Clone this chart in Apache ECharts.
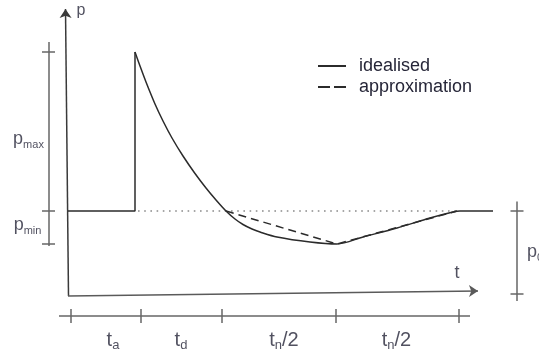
<!DOCTYPE html>
<html>
<head>
<meta charset="utf-8">
<script src="https://cdn.jsdelivr.net/npm/echarts@6/dist/echarts.min.js"></script>
<style>
  html, body { margin: 0; padding: 0; background: #fff; }
  #chart { width: 539px; height: 354px; }
</style>
</head>
<body>
<div id="chart"></div>
<script>
// Pressure-time history of a blast load (schematic units: t in ms, p in kPa)

// ambient level up to arrival, then instantaneous rise to the peak
const riseTimes = [0.1, 6.8, 6.8];
const risePressures = [0, 0, 15.9];

// decay of the positive phase and the negative phase of the idealised curve
const idealTimes = [6.8, 7.3, 7.9, 8.8, 9.6, 10.5, 11.6, 12.8, 13.9, 14.9, 15.9,
                    16.8, 17.6, 18.5, 19.3, 21.0, 24.3, 27.0, 29.6, 33.0, 36.3, 38.6, 39.3, 42.6];
const idealPressures = [15.9, 14.5, 12.9, 10.7, 9.0, 7.3, 5.5, 3.75, 2.3, 1.1, 0,
                        -0.8, -1.35, -1.8, -2.1, -2.6, -3.1, -3.3, -2.6, -1.7, -0.7, -0.1, 0, 0];

// bilinear approximation of the negative phase
const approxTimes = [15.9, 27.0, 39.0];
const approxPressures = [0, -3.3, 0];

// ambient pressure reference (dotted)
const refTimes = [7.1, 39.0];

// characteristic pressure levels
const pPeak = 15.9;
const pMinLevel = -3.3;

// phase boundaries on the time ruler and their labels
const phaseBounds = [0.4, 7.4, 15.5, 26.9, 39.2];
const phaseLabelTimes = [4.6, 11.4, 21.7, 32.95];
const phaseLabels = [['t', 'a', ''], ['t', 'd', ''], ['t', 'n', '/2'], ['t', 'n', '/2']];

const textColor = '#262638';
const lineColor = '#2b2b2b';
const font = 'Liberation Sans, Arial, sans-serif';

// coordinate-system layout values (data units)
const rulerLevel = -10.5;
const leftBarT = -1.85;
const rightBarT = 45.0;
const tickHalfT = 0.65;
const tickHalfP = 0.7;

function zip(a, b) { return a.map((v, i) => [v, b[i]]); }

// segment lists for the measuring bars
const barSegments = [];
// left bar with p_max / p_min ticks
barSegments.push({ coords: [[leftBarT, 16.9], [leftBarT, -3.5]] });
[pPeak, 0, pMinLevel].forEach(p => barSegments.push({ coords: [[leftBarT - tickHalfT, p], [leftBarT + tickHalfT, p]] }));
// right bar for p_0
barSegments.push({ coords: [[rightBarT, 0.95], [rightBarT, -9.0]] });
[0, -8.3].forEach(p => barSegments.push({ coords: [[rightBarT - tickHalfT, p], [rightBarT + tickHalfT, p]] }));
// time ruler
barSegments.push({ coords: [[-0.8, rulerLevel], [40.3, rulerLevel]] });
phaseBounds.forEach(t => barSegments.push({ coords: [[t, rulerLevel + tickHalfP], [t, rulerLevel - tickHalfP]] }));

function richLabel(base, sub, suffix, baseKey, subKey) {
  return '{' + baseKey + '|' + base + '}{' + subKey + '|' + sub + '}' + (suffix ? '{' + baseKey + '|' + suffix + '}' : '');
}

const textItems = [];
phaseLabels.forEach((lab, i) => {
  textItems.push({
    value: [phaseLabelTimes[i], -12.9],
    label: { formatter: richLabel(lab[0], lab[1], lab[2], 'b20', 's13') }
  });
});
textItems.push({ value: [-3.85, 7.2], label: { formatter: richLabel('p', 'max', '', 'b18', 's11') } });
textItems.push({ value: [-3.95, -1.4], label: { formatter: richLabel('p', 'min', '', 'b18', 's11') } });
textItems.push({ value: [46.0, -4.1], label: { formatter: richLabel('p', '0', '', 'b18', 's11'), align: 'left' } });
textItems.push({ value: [39.0, -6.2], label: { formatter: '{b18|t}' } });
textItems.push({ value: [1.4, 20.0], label: { formatter: '{b16|p}' } });

const chart = echarts.init(document.getElementById('chart'), null, { renderer: 'canvas' });

chart.setOption({
  animation: false,
  backgroundColor: '#fff',
  grid: { left: 7, top: 1, width: 530, height: 350, outerBoundsMode: 'none', containLabel: false },
  xAxis: { type: 'value', min: -6, max: 47, show: false },
  yAxis: { type: 'value', min: -14, max: 21, show: false },
  legend: {
    orient: 'vertical',
    left: 317,
    top: 56,
    padding: 0,
    itemWidth: 28,
    itemHeight: 14,
    itemGap: 1,
    selectedMode: false,
    itemStyle: { opacity: 0 },
    textStyle: { fontSize: 18, lineHeight: 20, color: textColor, fontFamily: font, padding: [0, 0, 0, 8] },
    data: [
      { name: 'idealised' },
      { name: 'approximation', lineStyle: { type: [12, 4] } }
    ]
  },
  series: [
    {
      // p and t axes with arrow heads
      type: 'lines',
      coordinateSystem: 'cartesian2d',
      silent: true,
      symbol: ['none', 'arrow'],
      symbolSize: 9,
      lineStyle: { color: '#3a3a3a', width: 1.5, opacity: 1 },
      data: [
        { coords: [[0.15, -8.5], [-0.15, 20.2]] },
        { coords: [[0.1, -8.5], [41.1, -8.0]], lineStyle: { color: '#5a5a5a' } }
      ],
      z: 2
    },
    {
      // measuring bars
      type: 'lines',
      coordinateSystem: 'cartesian2d',
      silent: true,
      symbol: ['none', 'none'],
      lineStyle: { color: '#666', width: 1.5, opacity: 1 },
      data: barSegments,
      z: 2
    },
    {
      name: 'ambient',
      type: 'line',
      silent: true,
      symbol: 'none',
      data: refTimes.map(t => [t, 0]),
      lineStyle: { color: '#8a8a8a', width: 1.5, type: [1.6, 4.6] },
      z: 3
    },
    {
      name: 'idealised',
      type: 'line',
      silent: true,
      symbol: 'none',
      data: zip(riseTimes, risePressures),
      itemStyle: { color: lineColor },
      lineStyle: { color: lineColor, width: 1.5 },
      z: 4
    },
    {
      name: 'idealised',
      type: 'line',
      silent: true,
      symbol: 'none',
      smooth: 0.3,
      data: zip(idealTimes, idealPressures),
      itemStyle: { color: lineColor },
      lineStyle: { color: lineColor, width: 1.5 },
      z: 4
    },
    {
      name: 'approximation',
      type: 'line',
      silent: true,
      symbol: 'none',
      data: zip(approxTimes, approxPressures),
      itemStyle: { color: lineColor },
      lineStyle: { color: lineColor, width: 1.5, type: [8, 5] },
      z: 5
    },
    {
      type: 'scatter',
      silent: true,
      symbolSize: 0,
      data: textItems,
      label: {
        show: true,
        position: 'inside',
        align: 'center',
        verticalAlign: 'middle',
        color: textColor,
        fontFamily: font,
        rich: {
          b20: { fontSize: 20, lineHeight: 24, color: textColor, fontFamily: font },
          s13: { fontSize: 13, lineHeight: 12, verticalAlign: 'bottom', color: textColor, fontFamily: font },
          b18: { fontSize: 18, lineHeight: 22, color: textColor, fontFamily: font },
          s11: { fontSize: 11, lineHeight: 11, verticalAlign: 'bottom', color: textColor, fontFamily: font },
          b16: { fontSize: 16, lineHeight: 20, color: textColor, fontFamily: font }
        }
      },
      z: 6
    }
  ]
});
</script>
</body>
</html>
